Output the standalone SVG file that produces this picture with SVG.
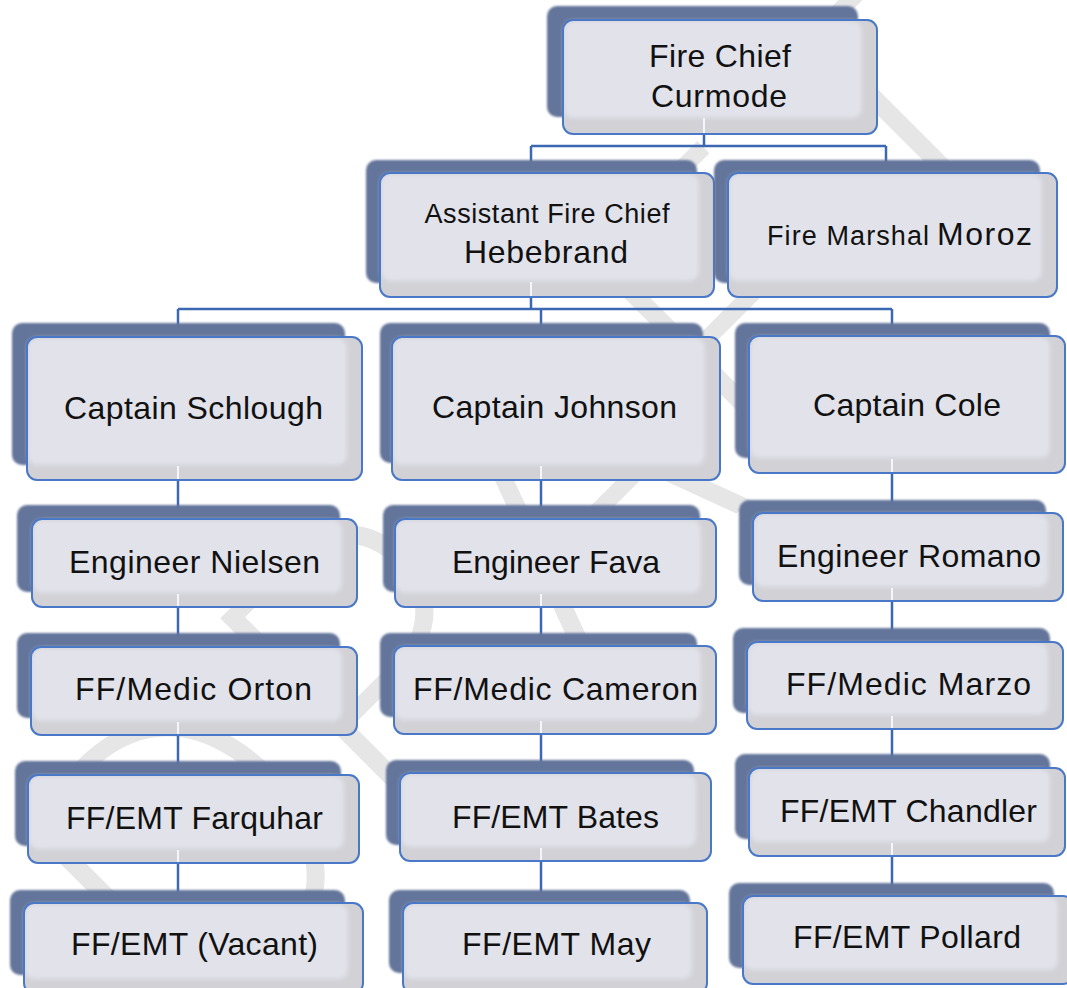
<svg xmlns="http://www.w3.org/2000/svg" width="1067" height="988" viewBox="0 0 1067 988">
<defs>
<style>
.bg{fill:#ffffff}
.wm{font-family:Inter,"Liberation Sans",sans-serif;font-weight:200;font-size:400px;fill:#e6e6e6;text-anchor:middle}
.sh{fill:#64759a;filter:url(#soft)}
.fr{fill:#d1d1d6}
.in{fill:#e1e2ea;filter:url(#soft2)}
.bd{fill:none;stroke:#4a78c8;stroke-width:2}
.stub{stroke:#f4f6fb;stroke-width:2}
.cn{fill:none;stroke:#3c67b3;stroke-width:2.5}
.t{font-family:"Liberation Sans",Arial,sans-serif;font-size:32px;fill:#111;text-anchor:middle}
.s{font-size:27px}
</style>
<filter id="soft" x="-5%" y="-5%" width="110%" height="110%"><feGaussianBlur stdDeviation="1.2"/></filter>
<filter id="soft2" x="-5%" y="-5%" width="110%" height="110%"><feGaussianBlur stdDeviation="2"/></filter>
</defs>
<rect class="bg" x="0" y="0" width="1067" height="988"/>
<text class="wm" transform="translate(545,500) rotate(-45)" y="145">DRAFT</text>

<g id="connectors">
<path class="cn" d="M704,134 V146 M531,146 H886 M531,146 V173 M886,146 V173"/>
<path class="cn" d="M531,297 V309 M178,309 H892 M178,309 V337 M541,309 V337 M892,309 V336"/>
<path class="cn" d="M178,480 V519 M178,607 V647 M178,735 V775 M178,863 V903"/>
<path class="cn" d="M541,480 V519 M541,607 V646 M541,734 V773 M541,861 V903"/>
<path class="cn" d="M892,473 V513 M892,601 V642 M892,729 V768 M892,856 V896"/>
</g>

<g id="fire-chief">
<rect class="sh" x="547" y="6" width="311" height="111" rx="10"/>
<rect class="fr" x="563" y="20" width="314" height="114" rx="10"/>
<rect class="in" x="564" y="21" width="298" height="97" rx="9"/>
<line class="stub" x1="704" y1="118" x2="704" y2="133"/>
<rect class="bd" x="563" y="20" width="314" height="114" rx="10"/>
<text class="t" x="720" y="67" textLength="142">Fire Chief</text>
<text class="t" x="719" y="107" textLength="136">Curmode</text>
</g>

<g id="assistant-chief">
<rect class="sh" x="366" y="160" width="331" height="123" rx="10"/>
<rect class="fr" x="380" y="173" width="334" height="124" rx="10"/>
<rect class="in" x="381" y="174" width="318" height="107" rx="9"/>
<line class="stub" x1="531" y1="282" x2="531" y2="296"/>
<rect class="bd" x="380" y="173" width="334" height="124" rx="10"/>
<text class="t s" x="547" y="223" textLength="245">Assistant Fire Chief</text>
<text class="t" x="546" y="263" textLength="164">Hebebrand</text>
</g>

<g id="fire-marshal">
<rect class="sh" x="714" y="160" width="326" height="123" rx="10"/>
<rect class="fr" x="728" y="173" width="329" height="124" rx="10"/>
<rect class="in" x="729" y="174" width="313" height="107" rx="9"/>
<rect class="bd" x="728" y="173" width="329" height="124" rx="10"/>
<text class="t" y="245" style="text-anchor:start"><tspan class="s" x="767" textLength="162">Fire Marshal</tspan><tspan x="937" textLength="95">Moroz</tspan></text>
</g>

<g id="captain-schlough">
<rect class="sh" x="12" y="323" width="333" height="142" rx="10"/>
<rect class="fr" x="27" y="337" width="335" height="143" rx="10"/>
<rect class="in" x="28" y="338" width="319" height="127" rx="9"/>
<line class="stub" x1="178" y1="466" x2="178" y2="479"/>
<rect class="bd" x="27" y="337" width="335" height="143" rx="10"/>
<text class="t" x="193.5" y="419" textLength="259">Captain Schlough</text>
</g>

<g id="captain-johnson">
<rect class="sh" x="380" y="323" width="323" height="140" rx="10"/>
<rect class="fr" x="392" y="337" width="328" height="143" rx="10"/>
<rect class="in" x="393" y="338" width="312" height="127" rx="9"/>
<line class="stub" x1="541" y1="466" x2="541" y2="479"/>
<rect class="bd" x="392" y="337" width="328" height="143" rx="10"/>
<text class="t" x="554.5" y="418" textLength="245">Captain Johnson</text>
</g>

<g id="captain-cole">
<rect class="sh" x="735" y="323" width="315" height="135" rx="10"/>
<rect class="fr" x="749" y="336" width="316" height="137" rx="10"/>
<rect class="in" x="750" y="337" width="300" height="121" rx="9"/>
<line class="stub" x1="892" y1="459" x2="892" y2="472"/>
<rect class="bd" x="749" y="336" width="316" height="137" rx="10"/>
<text class="t" x="907" y="416" textLength="188">Captain Cole</text>
</g>

<g id="engineer-nielsen">
<rect class="sh" x="17" y="505" width="323" height="87" rx="10"/>
<rect class="fr" x="32" y="519" width="325" height="88" rx="10"/>
<rect class="in" x="33" y="520" width="309" height="73" rx="9"/>
<line class="stub" x1="178" y1="594" x2="178" y2="606"/>
<rect class="bd" x="32" y="519" width="325" height="88" rx="10"/>
<text class="t" x="194.5" y="573" textLength="251">Engineer Nielsen</text>
</g>

<g id="engineer-fava">
<rect class="sh" x="383" y="505" width="317" height="87" rx="10"/>
<rect class="fr" x="395" y="519" width="321" height="88" rx="10"/>
<rect class="in" x="396" y="520" width="305" height="73" rx="9"/>
<line class="stub" x1="541" y1="594" x2="541" y2="606"/>
<rect class="bd" x="395" y="519" width="321" height="88" rx="10"/>
<text class="t" x="556" y="573" textLength="208">Engineer Fava</text>
</g>

<g id="engineer-romano">
<rect class="sh" x="739" y="500" width="307" height="85" rx="10"/>
<rect class="fr" x="753" y="513" width="310" height="88" rx="10"/>
<rect class="in" x="754" y="514" width="294" height="73" rx="9"/>
<line class="stub" x1="892" y1="588" x2="892" y2="600"/>
<rect class="bd" x="753" y="513" width="310" height="88" rx="10"/>
<text class="t" x="909" y="567" textLength="264">Engineer Romano</text>
</g>

<g id="medic-orton">
<rect class="sh" x="17" y="633" width="323" height="85" rx="10"/>
<rect class="fr" x="31" y="647" width="326" height="88" rx="10"/>
<rect class="in" x="32" y="648" width="310" height="73" rx="9"/>
<line class="stub" x1="178" y1="722" x2="178" y2="734"/>
<rect class="bd" x="31" y="647" width="326" height="88" rx="10"/>
<text class="t" x="193.5" y="700" textLength="237">FF/Medic Orton</text>
</g>

<g id="medic-cameron">
<rect class="sh" x="380" y="633" width="317" height="84" rx="10"/>
<rect class="fr" x="394" y="646" width="322" height="88" rx="10"/>
<rect class="in" x="395" y="647" width="306" height="73" rx="9"/>
<line class="stub" x1="541" y1="721" x2="541" y2="733"/>
<rect class="bd" x="394" y="646" width="322" height="88" rx="10"/>
<text class="t" x="555.5" y="700" textLength="285">FF/Medic Cameron</text>
</g>

<g id="medic-marzo">
<rect class="sh" x="733" y="628" width="317" height="85" rx="10"/>
<rect class="fr" x="747" y="642" width="316" height="87" rx="10"/>
<rect class="in" x="748" y="643" width="300" height="72" rx="9"/>
<line class="stub" x1="892" y1="716" x2="892" y2="728"/>
<rect class="bd" x="747" y="642" width="316" height="87" rx="10"/>
<text class="t" x="908.5" y="695" textLength="245">FF/Medic Marzo</text>
</g>

<g id="emt-farquhar">
<rect class="sh" x="15" y="761" width="326" height="85" rx="10"/>
<rect class="fr" x="28" y="775" width="331" height="88" rx="10"/>
<rect class="in" x="29" y="776" width="315" height="73" rx="9"/>
<line class="stub" x1="178" y1="850" x2="178" y2="862"/>
<rect class="bd" x="28" y="775" width="331" height="88" rx="10"/>
<text class="t" x="194.5" y="829" textLength="257">FF/EMT Farquhar</text>
</g>

<g id="emt-bates">
<rect class="sh" x="386" y="760" width="308" height="85" rx="10"/>
<rect class="fr" x="400" y="773" width="311" height="88" rx="10"/>
<rect class="in" x="401" y="774" width="295" height="73" rx="9"/>
<line class="stub" x1="541" y1="848" x2="541" y2="860"/>
<rect class="bd" x="400" y="773" width="311" height="88" rx="10"/>
<text class="t" x="555.5" y="828" textLength="207">FF/EMT Bates</text>
</g>

<g id="emt-chandler">
<rect class="sh" x="735" y="754" width="315" height="85" rx="10"/>
<rect class="fr" x="749" y="768" width="316" height="88" rx="10"/>
<rect class="in" x="750" y="769" width="300" height="73" rx="9"/>
<line class="stub" x1="892" y1="843" x2="892" y2="855"/>
<rect class="bd" x="749" y="768" width="316" height="88" rx="10"/>
<text class="t" x="908.5" y="822" textLength="257">FF/EMT Chandler</text>
</g>

<g id="emt-vacant">
<rect class="sh" x="10" y="890" width="335" height="85" rx="10"/>
<rect class="fr" x="24" y="903" width="339" height="90" rx="10"/>
<rect class="in" x="25" y="904" width="323" height="75" rx="9"/>
<rect class="bd" x="24" y="903" width="339" height="90" rx="10"/>
<text class="t" x="194.5" y="955" textLength="247">FF/EMT (Vacant)</text>
</g>

<g id="emt-may">
<rect class="sh" x="389" y="890" width="301" height="83" rx="10"/>
<rect class="fr" x="403" y="903" width="304" height="90" rx="10"/>
<rect class="in" x="404" y="904" width="288" height="75" rx="9"/>
<rect class="bd" x="403" y="903" width="304" height="90" rx="10"/>
<text class="t" x="556.5" y="955" textLength="189">FF/EMT May</text>
</g>

<g id="emt-pollard">
<rect class="sh" x="729" y="883" width="325" height="85" rx="10"/>
<rect class="fr" x="743" y="896" width="330" height="88" rx="10"/>
<rect class="in" x="744" y="897" width="314" height="73" rx="9"/>
<rect class="bd" x="743" y="896" width="330" height="88" rx="10"/>
<text class="t" x="907" y="948" textLength="228">FF/EMT Pollard</text>
</g>
</svg>
